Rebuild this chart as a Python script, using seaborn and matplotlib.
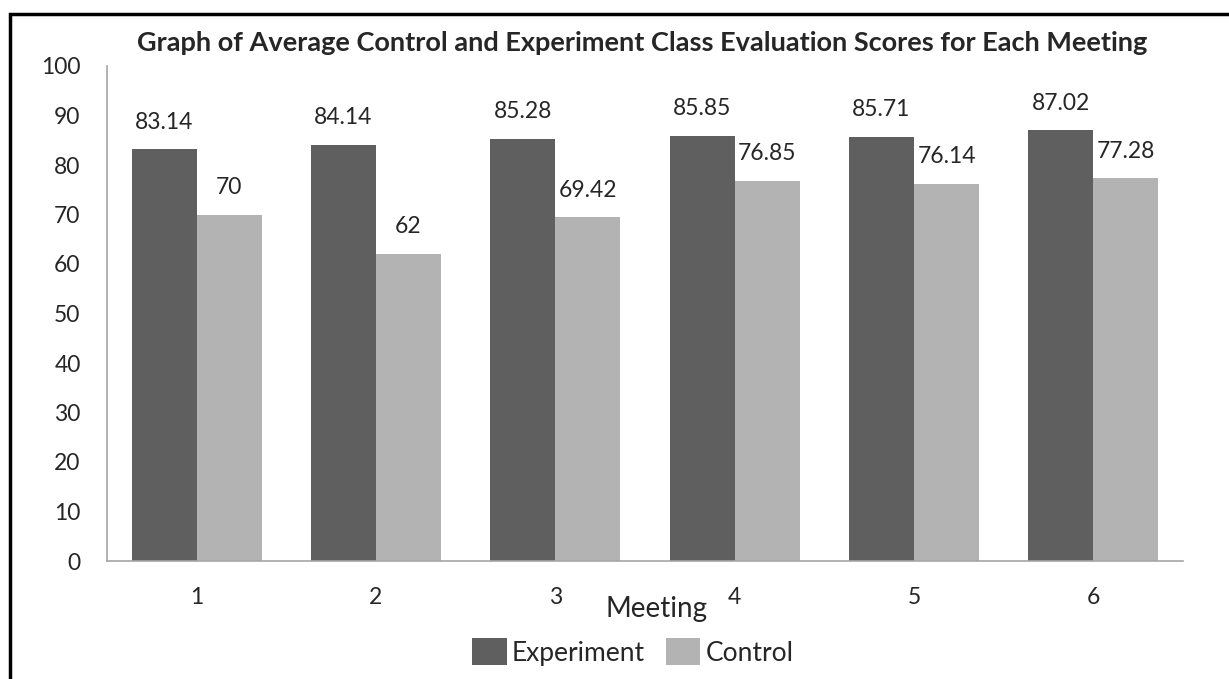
import pandas as pd
import matplotlib.pyplot as plt
import seaborn as sns
from matplotlib.patches import Rectangle, Patch

meetings = ['1', '2', '3', '4', '5', '6']
experiment = [83.14, 84.14, 85.28, 85.85, 85.71, 87.02]
control = [70, 62, 69.42, 76.85, 76.14, 77.28]
groups = ['Experiment', 'Control']
colors = ['#5f5f5f', '#b3b3b3']

df = pd.DataFrame({
    'Meeting': meetings * 2,
    'Score': experiment + control,
    'Class': [groups[0]] * 6 + [groups[1]] * 6,
})

sns.set_style('white')
plt.rcParams['font.family'] = ['Lato', 'DejaVu Sans']

fig = plt.figure(figsize=(12.29, 6.79), dpi=100)
ax = fig.add_axes([107 / 1229, 1 - 561 / 679, (1183 - 107) / 1229, (561 - 66) / 679])

sns.barplot(data=df, x='Meeting', y='Score', hue='Class', palette=colors,
            width=0.725, saturation=1, linewidth=0, ax=ax, legend=False)

# value labels
for cont, vals in zip(ax.containers, [experiment, control]):
    for bar, v in zip(cont, vals):
        ax.annotate(f'{v:g}', (bar.get_x() + bar.get_width() / 2, bar.get_height()),
                    xytext=(0, 12), textcoords='offset points',
                    ha='center', va='bottom', fontsize=16.5)

ax.set_ylim(0, 100)
ax.set_xlim(-0.5, 5.5)
ax.set_yticks(range(0, 101, 10))
ax.tick_params(axis='both', length=0, labelsize=16.5)
ax.tick_params(axis='y', pad=19)
ax.tick_params(axis='x', pad=19)
ax.set_xlabel('')
ax.set_ylabel('')
for s in ['top', 'right']:
    ax.spines[s].set_visible(False)
for s in ['left', 'bottom']:
    ax.spines[s].set_color('#a6a6a6')
    ax.spines[s].set_linewidth(1.2)

fig.text(642 / 1229, 1 - 43 / 679,
         'Graph of Average Control and Experiment Class Evaluation Scores for Each Meeting',
         ha='center', va='center', fontsize=19.5, fontweight='bold')
fig.text(656 / 1229, 1 - 609 / 679, 'Meeting', ha='center', va='center', fontsize=20)

handles = [Patch(facecolor=c, edgecolor='none') for c in colors]
fig.legend(handles, groups, loc='center', bbox_to_anchor=(633 / 1229, 1 - 652 / 679),
           ncol=2, frameon=False, fontsize=19, handlelength=1.3, handleheight=1.15,
           handletextpad=0.2, columnspacing=0.8, borderpad=0)

# outer frame of the chart area
fig.patches.append(Rectangle((10 / 1229, -0.1), 1.2, 1 - 14 / 679 + 0.1,
                             transform=fig.transFigure, fill=False,
                             edgecolor='black', linewidth=2.5))

fig.savefig('out.png', dpi=100)
